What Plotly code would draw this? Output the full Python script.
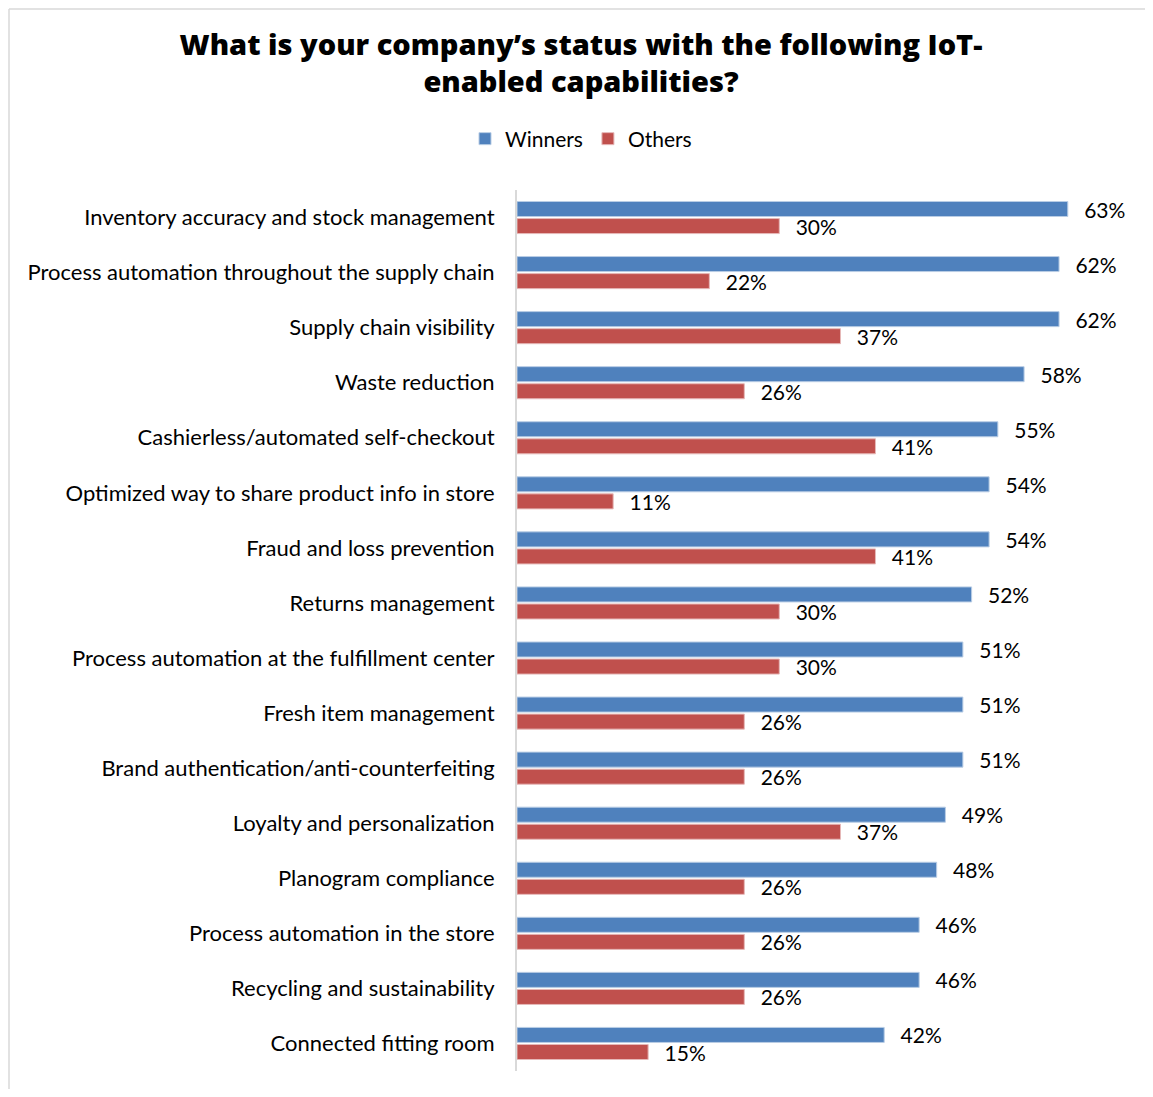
import plotly.graph_objects as go

categories = [
    "Inventory accuracy and stock management",
    "Process automation throughout the supply chain",
    "Supply chain visibility",
    "Waste reduction",
    "Cashierless/automated self-checkout",
    "Optimized way to share product info in store",
    "Fraud and loss prevention",
    "Returns management",
    "Process automation at the fulfillment center",
    "Fresh item management",
    "Brand authentication/anti-counterfeiting",
    "Loyalty and personalization",
    "Planogram compliance",
    "Process automation in the store",
    "Recycling and sustainability",
    "Connected fitting room",
]
winners = [63, 62, 62, 58, 55, 54, 54, 52, 51, 51, 51, 49, 48, 46, 46, 42]
others = [30, 22, 37, 26, 41, 11, 41, 30, 30, 26, 26, 37, 26, 26, 26, 15]

FONT = "Lato"
W, H = 1137, 1081
ml, mr, mt, mb = 509, 16, 182, 18
PW, PH = W - ml - mr, H - mt - mb

fig = go.Figure()
for name, vals, col, edge in [
    ("Winners", winners, "#4F81BD", "#B9CDE5"),
    ("Others", others, "#C0504D", "#E6B9B8"),
]:
    fig.add_trace(go.Bar(
        name=name, y=categories, x=vals, orientation="h",
        marker=dict(color=col, line=dict(color=edge, width=1)),
        text=[f"{v}%" for v in vals], textposition="outside",
        texttemplate="  \u2009%{text}", constraintext="none",
        textfont=dict(family=FONT, size=21, color="#000000"), cliponaxis=False,
    ))

fig.update_layout(
    width=W, height=H,
    margin=dict(l=ml, r=mr, t=mt, b=mb),
    paper_bgcolor="white", plot_bgcolor="white",
    barmode="group", bargap=0.38, bargroupgap=0.12,
    title=dict(
        text="What is your company’s status with the following IoT-<br>enabled capabilities?",
        font=dict(family="Open Sans", size=29, color="#000000", weight=800),
        x=573 / W, xanchor="center", y=1 - 46.5 / H, yanchor="middle",
    ),
    legend=dict(
        orientation="h", x=(573 - ml) / PW, xanchor="center",
        y=1 + (mt - 131) / PH, yanchor="middle",
        font=dict(family=FONT, size=21, color="#000000"),
        itemwidth=30, traceorder="normal",
    ),
    font=dict(family=FONT, color="#000000"),
    showlegend=True,
)
fig.update_xaxes(range=[0, 70], showgrid=False, zeroline=False, showticklabels=False, ticks="")
fig.update_yaxes(
    autorange="reversed", showgrid=False, zeroline=False,
    showline=True, linecolor="#D9D9D9", linewidth=2,
    ticks="", ticklabelstandoff=16,
    tickfont=dict(family=FONT, size=22, color="#000000"),
)

# outer frame
fy = 1 + (mt - 1) / PH
fx = -(ml - 1) / PW
fig.add_shape(type="line", xref="paper", yref="paper",
              x0=fx, x1=(W - ml) / PW, y0=fy, y1=fy,
              line=dict(color="#D9D9D9", width=1.5))
fig.add_shape(type="line", xref="paper", yref="paper",
              x0=fx, x1=fx, y0=fy, y1=-mb / PH,
              line=dict(color="#D9D9D9", width=1.5))

fig.write_html("out.html")
